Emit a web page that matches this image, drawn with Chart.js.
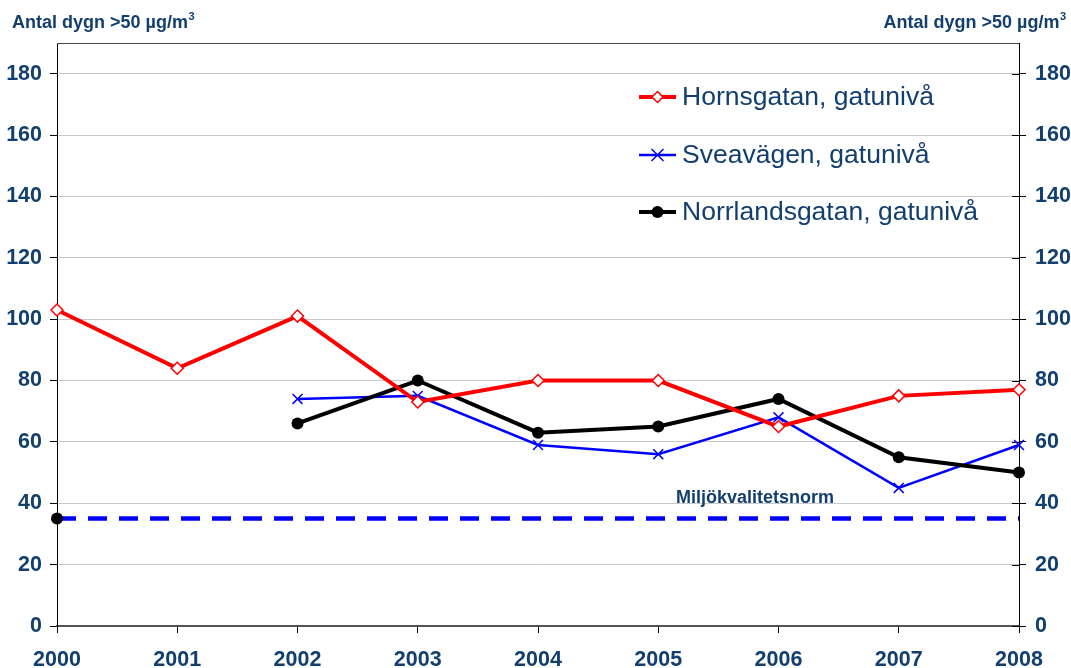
<!DOCTYPE html>
<html>
<head>
<meta charset="utf-8">
<script src="https://cdn.jsdelivr.net/npm/chart.js@4/dist/chart.umd.min.js"></script>
<style>
html,body{margin:0;padding:0;background:#fff;}
#wrap{position:relative;width:1071px;height:668px;}
</style>
</head>
<body>
<div id="wrap"><canvas id="c" width="1071" height="668"></canvas></div>
<script>
const years = ['2000','2001','2002','2003','2004','2005','2006','2007','2008'];
const hornsgatan = [103, 84, 101, 73, 80, 80, 65, 75, 77];
const sveavagen = [null, null, 74, 75, 59, 56, 68, 45, 59];
const norrlandsgatan = [35, null, 66, 80, 63, 65, 74, 55, 50];
const norm = [35, 35, 35, 35, 35, 35, 35, 35, 35];
const yTicks = [0, 20, 40, 60, 80, 100, 120, 140, 160, 180];
const axisTitle = 'Antal dygn >50 µg/m';
const normLabel = 'Miljökvalitetsnorm';

const NAVY = '#123f6e';
const FONT = '"Liberation Sans", Arial, sans-serif';

const legendItems = [
  {label:'Hornsgatan, gatunivå', color:'#ff0000', marker:'diamond', lw:4},
  {label:'Sveavägen, gatunivå', color:'#0000ff', marker:'cross', lw:2.5},
  {label:'Norrlandsgatan, gatunivå', color:'#000000', marker:'circle', lw:4}
];

const decor = {
  id:'decor',
  beforeDatasetsDraw(chart){
    const ctx = chart.ctx, a = chart.chartArea;
    ctx.save();
    ctx.strokeStyle = '#444';
    ctx.lineWidth = 1;
    ctx.beginPath(); ctx.moveTo(a.left, a.top+0.5); ctx.lineTo(a.right, a.top+0.5); ctx.stroke();
    const y = chart.scales.y1;
    ctx.strokeStyle = '#000';
    yTicks.forEach(v=>{
      const py = Math.round(y.getPixelForValue(v))+0.5;
      ctx.beginPath(); ctx.moveTo(a.right-7, py); ctx.lineTo(a.right, py); ctx.stroke();
    });
    ctx.restore();
  },
  afterDraw(chart){
    const ctx = chart.ctx;
    ctx.save();
    ctx.fillStyle = NAVY;
    ctx.textBaseline = 'alphabetic';
    ctx.textAlign = 'left';
    ctx.font = 'bold 18px ' + FONT;
    const w = ctx.measureText(axisTitle).width;
    ctx.font = 'bold 11px ' + FONT;
    const sw = ctx.measureText('3').width;
    // left title
    ctx.font = 'bold 18px ' + FONT;
    ctx.fillText(axisTitle, 12, 28);
    ctx.font = 'bold 11px ' + FONT;
    ctx.fillText('3', 12 + w + 0.5, 20);
    // right title
    const rightEnd = 1066;
    ctx.font = 'bold 18px ' + FONT;
    ctx.fillText(axisTitle, rightEnd - sw - 0.5 - w, 28);
    ctx.font = 'bold 11px ' + FONT;
    ctx.fillText('3', rightEnd - sw, 20);
    // norm label
    ctx.font = 'bold 18px ' + FONT;
    ctx.fillText(normLabel, 676, 503);
    // legend
    const rows = [97, 155, 212];
    legendItems.forEach((it,i)=>{
      const cy = rows[i];
      ctx.strokeStyle = it.color;
      ctx.lineWidth = it.lw;
      ctx.beginPath(); ctx.moveTo(639, cy); ctx.lineTo(676, cy); ctx.stroke();
      const cx = 657.5;
      if (it.marker==='diamond'){
        ctx.fillStyle='#fff'; ctx.lineWidth=1.5;
        ctx.beginPath(); ctx.moveTo(cx, cy-5.5); ctx.lineTo(cx+5.5, cy); ctx.lineTo(cx, cy+5.5); ctx.lineTo(cx-5.5, cy); ctx.closePath();
        ctx.fill(); ctx.stroke();
      } else if (it.marker==='cross'){
        ctx.lineWidth=1.5;
        ctx.beginPath(); ctx.moveTo(cx-6,cy-6); ctx.lineTo(cx+6,cy+6); ctx.moveTo(cx+6,cy-6); ctx.lineTo(cx-6,cy+6); ctx.stroke();
      } else {
        ctx.fillStyle='#000';
        ctx.beginPath(); ctx.arc(cx, cy, 6, 0, Math.PI*2); ctx.fill();
      }
      ctx.fillStyle = NAVY;
      ctx.font = '26.5px ' + FONT;
      ctx.textBaseline = 'middle';
      ctx.fillText(it.label, 682, cy+1);
      ctx.textBaseline = 'alphabetic';
    });
    ctx.restore();
  }
};

const tickFilter = (scale)=>{ scale.ticks = scale.ticks.filter(t => yTicks.includes(t.value)); };

new Chart(document.getElementById('c'), {
  type:'line',
  data:{
    labels: years,
    datasets:[
      {label:'Miljökvalitetsnorm', data:norm, borderColor:'#0000ff', borderWidth:4.5, borderDash:[19,12], pointRadius:0, fill:false, yAxisID:'y', order:4},
      {label:'Sveavägen, gatunivå', data:sveavagen, borderColor:'#0000ff', borderWidth:2.5, pointStyle:'crossRot', pointRadius:7, pointBorderWidth:1.5, pointBorderColor:'#0000ff', yAxisID:'y', order:3},
      {label:'Norrlandsgatan, gatunivå', data:norrlandsgatan, borderColor:'#000000', borderWidth:4, pointStyle:'circle', pointRadius:6, pointBackgroundColor:'#000', pointBorderColor:'#000', pointBorderWidth:0, yAxisID:'y', order:2},
      {label:'Hornsgatan, gatunivå', data:hornsgatan, borderColor:'#ff0000', borderWidth:4, pointStyle:'rectRot', pointRadius:6, pointBackgroundColor:'#fff', pointBorderColor:'#ff0000', pointBorderWidth:1.5, yAxisID:'y', order:1}
    ]
  },
  options:{
    responsive:false,
    animation:false,
    spanGaps:false,
    layout:{padding:{top:43, left:0, right:0, bottom:0}},
    plugins:{legend:{display:false}, tooltip:{enabled:false}},
    elements:{line:{tension:0}},
    scales:{
      x:{
        type:'category', offset:false,
        grid:{display:true, drawOnChartArea:false, drawTicks:true, tickLength:7, tickColor:'#000'},
        border:{display:true, color:'#555', width:2},
        ticks:{color:NAVY, font:{family:FONT, size:21.5, weight:'bold'}, padding:14, maxRotation:0, autoSkip:false},
        afterFit(s){ s.height = 42; }
      },
      y:{
        position:'left', min:0, max:190,
        afterBuildTicks: tickFilter,
        grid:{color:'#c8c8c8', lineWidth:1, drawTicks:true, tickLength:7, tickColor:'#000'},
        border:{display:true, color:'#000', width:1},
        ticks:{stepSize:20, color:NAVY, font:{family:FONT, size:21.5, weight:'bold'}, padding:8},
        afterFit(s){ s.width = 57; }
      },
      y1:{
        position:'right', min:0, max:190,
        afterBuildTicks: tickFilter,
        grid:{drawOnChartArea:false, drawTicks:true, tickLength:7, tickColor:'#000'},
        border:{display:true, color:'#000', width:1},
        ticks:{stepSize:20, color:NAVY, font:{family:FONT, size:21.5, weight:'bold'}, padding:9},
        afterFit(s){ s.width = 52; }
      }
    }
  },
  plugins:[decor]
});
</script>
</body>
</html>
